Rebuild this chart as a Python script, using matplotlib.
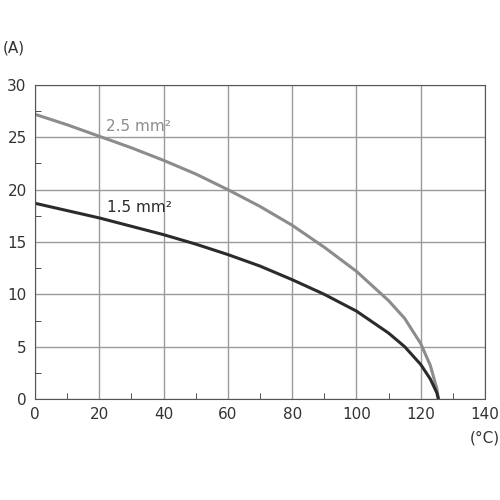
import matplotlib.pyplot as plt

# temperature (°C) vs current (A)
temp = [0, 10, 20, 30, 40, 50, 60, 70, 80, 90, 100, 110, 115, 120, 123, 125, 125.5]
amp_25 = [27.2, 26.2, 25.1, 24.0, 22.8, 21.5, 20.0, 18.4, 16.6, 14.5, 12.2, 9.4, 7.7, 5.3, 3.2, 1.0, 0]
amp_15 = [18.7, 18.0, 17.3, 16.5, 15.7, 14.8, 13.8, 12.7, 11.4, 10.0, 8.4, 6.3, 5.0, 3.3, 1.9, 0.6, 0]

fig = plt.figure(figsize=(5, 5), dpi=100)
ax = fig.add_axes([0.07, 0.202, 0.9, 0.628])

ax.plot(temp, amp_25, color='#8c8c8c', lw=2.2)
ax.plot(temp, amp_15, color='#2b2b2b', lw=2.2)

ax.set_xlim(0, 140)
ax.set_ylim(0, 30)
ax.set_xticks(range(0, 141, 20))
ax.set_yticks(range(0, 31, 5))
ax.set_xticks(range(10, 140, 20), minor=True)
ax.set_yticks([2.5 + 5 * i for i in range(6)], minor=True)
ax.grid(True, which='major', color='#9a9a9a', lw=1)
ax.tick_params(which='both', direction='in', labelsize=11, colors='#333333')
ax.tick_params(which='major', length=0, pad=6)
ax.tick_params(which='minor', length=4)
for s in ax.spines.values():
    s.set_color('#555555')

ax.text(22, 25.6, '2.5 mm²', color='#8c8c8c', fontsize=11)
ax.text(22.5, 17.9, '1.5 mm²', color='#2b2b2b', fontsize=11)
fig.text(0.005, 0.895, '(A)', fontsize=11, color='#333333')
fig.text(0.94, 0.115, '(°C)', fontsize=11, color='#333333')

fig.savefig('out.png')
